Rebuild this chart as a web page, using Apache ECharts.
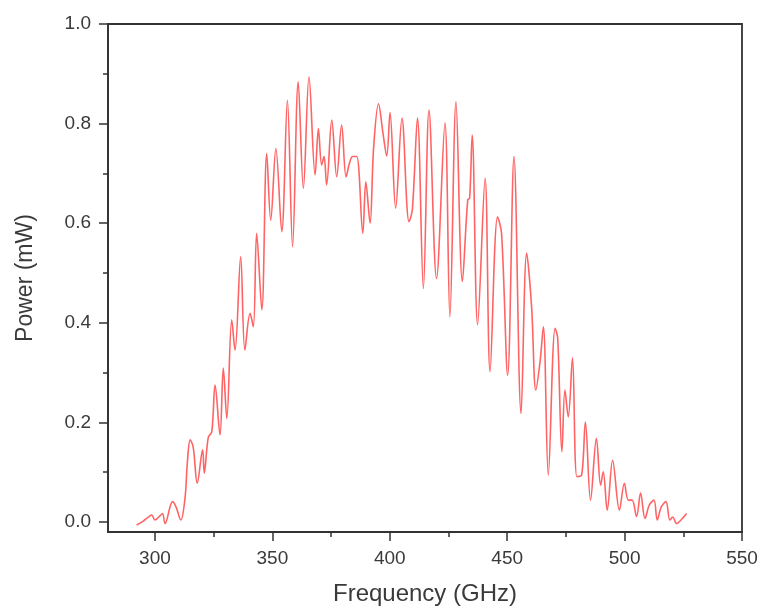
<!DOCTYPE html>
<html>
<head>
<meta charset="utf-8">
<script src="https://cdn.jsdelivr.net/npm/echarts@6/dist/echarts.min.js"></script>
<style>
html,body{margin:0;padding:0;background:#fff;}
#chart{width:761px;height:608px;}
</style>
</head>
<body>
<div id="chart"></div>
<script>
const freq = [
292.2,295.0,297.5,298.6,300.0,302.0,303.2,304.3,307.5,309.0,311.0,312.8,313.8,315.0,316.3,318.0,
320.3,321.0,322.7,324.2,325.6,327.7,329.1,330.6,332.7,334.1,336.5,338.3,340.5,341.9,343.3,345.5,
347.6,349.3,351.5,354.0,356.4,358.6,361.0,363.2,365.6,368.2,369.6,371.0,372.0,373.1,375.3,377.4,
379.5,381.4,382.8,384.2,385.9,388.5,389.8,391.6,393.1,395.2,397.1,398.7,400.1,402.5,405.2,408.2,
409.6,411.8,414.3,416.7,419.9,423.5,425.6,428.2,430.9,433.2,434.0,435.1,437.4,440.6,442.7,445.9,
447.6,450.2,452.9,455.9,458.3,460.4,462.2,464.0,465.4,467.5,470.4,471.5,473.3,474.6,476.0,477.8,
479.7,481.7,483.3,485.5,488.0,489.8,490.9,492.6,494.9,497.8,499.9,501.6,503.2,505.1,506.8,508.7,
510.5,512.5,513.9,515.6,517.6,519.3,520.5,522.2,524.2,526.4
];
const power = [
-0.006,0.002,0.011,0.014,0.004,0.012,0.017,-0.003,0.041,0.030,0.004,0.048,0.120,0.165,0.150,0.078,
0.145,0.098,0.170,0.181,0.275,0.175,0.309,0.208,0.406,0.345,0.533,0.345,0.419,0.392,0.580,0.426,
0.740,0.606,0.750,0.583,0.847,0.553,0.884,0.670,0.894,0.697,0.790,0.717,0.734,0.677,0.807,0.693,
0.797,0.693,0.720,0.734,0.734,0.580,0.683,0.600,0.750,0.840,0.781,0.735,0.822,0.630,0.811,0.603,
0.627,0.811,0.469,0.827,0.489,0.801,0.412,0.844,0.483,0.647,0.650,0.777,0.396,0.690,0.302,0.613,
0.580,0.295,0.734,0.218,0.540,0.432,0.265,0.322,0.392,0.094,0.389,0.370,0.141,0.265,0.211,0.330,
0.091,0.094,0.201,0.044,0.168,0.074,0.101,0.024,0.124,0.024,0.078,0.044,0.044,0.011,0.058,0.007,
0.034,0.044,0.004,0.030,0.041,0.004,0.010,-0.003,0.005,0.017
];
const xMajor = [300,350,400,450,500,550];
const xMinor = [325,375,425,475,525];
const yMajor = [0.0,0.2,0.4,0.6,0.8,1.0];
const yMinor = [0.1,0.3,0.5,0.7,0.9];

const points = freq.map((f,i)=>[f,power[i]]);
const FONT = '"Liberation Sans", Arial, sans-serif';
const axisColor = '#333';
const textColor = '#3a3a3a';

const chart = echarts.init(document.getElementById('chart'), null, {renderer:'canvas'});
chart.setOption({
  animation:false,
  backgroundColor:'#fff',
  grid:{left:108,right:19,top:24,bottom:76,outerBoundsMode:'none',containLabel:false,
    show:true,borderColor:axisColor,borderWidth:1.8,backgroundColor:'transparent'},
  xAxis:[{
    type:'value',min:280,max:550,
    name:'Frequency (GHz)',nameLocation:'middle',nameGap:50,
    nameTextStyle:{fontFamily:FONT,fontSize:24,color:textColor},
    axisLine:{show:true,onZero:false,lineStyle:{color:axisColor,width:1.8}},
    axisTick:{show:true,inside:false,length:9,customValues:xMajor,lineStyle:{color:axisColor,width:1.5}},
    axisLabel:{show:true,customValues:xMajor,margin:17,fontFamily:FONT,fontSize:19,color:textColor,
      formatter:v=>String(v)},
    splitLine:{show:false}
  },{
    type:'value',min:280,max:550,position:'bottom',
    axisLine:{show:false,onZero:false},
    axisTick:{show:true,inside:false,length:5,customValues:xMinor,lineStyle:{color:axisColor,width:1.5}},
    axisLabel:{show:false},splitLine:{show:false}
  }],
  yAxis:[{
    type:'value',min:-0.02,max:1.0,
    name:'Power (mW)',nameLocation:'middle',nameGap:71,
    nameTextStyle:{fontFamily:FONT,fontSize:23,color:textColor},
    axisLine:{show:true,onZero:false,lineStyle:{color:axisColor,width:1.8}},
    axisTick:{show:true,inside:false,length:9,customValues:yMajor,lineStyle:{color:axisColor,width:1.5}},
    axisLabel:{show:true,customValues:yMajor,margin:17,fontFamily:FONT,fontSize:19,color:textColor,
      formatter:v=>v.toFixed(1)},
    splitLine:{show:false}
  },{
    type:'value',min:-0.02,max:1.0,position:'left',
    axisLine:{show:false,onZero:false},
    axisTick:{show:true,inside:false,length:5,customValues:yMinor,lineStyle:{color:axisColor,width:1.5}},
    axisLabel:{show:false},splitLine:{show:false}
  }],
  series:[{
    type:'line',
    data:points,
    showSymbol:false,
    smooth:0.35,
    lineStyle:{color:'rgba(255,60,60,0.8)',width:1.6},
    itemStyle:{color:'rgba(255,60,60,0.8)'}
  }]
});
</script>
</body>
</html>
